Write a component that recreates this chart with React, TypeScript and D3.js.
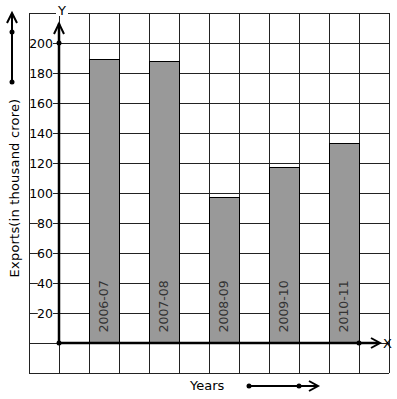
import * as d3 from "d3";

const years = ["2006-07", "2007-08", "2008-09", "2009-10", "2010-11"];
const exportsVals = [189, 188, 97, 117, 133];
const yTicks = [20, 40, 60, 80, 100, 120, 140, 160, 180, 200];

const W = 397, H = 399;
const FONT = "DejaVu Sans, sans-serif";

export default function App() {
  // grid of 12 x 12 cells, 30px each
  const gx = d3.scaleLinear().domain([0, 12]).range([29, 389]);
  const y = d3.scaleLinear().domain([-20, 220]).range([373, 13]);
  const x = d3.scaleBand<string>()
    .domain(years)
    .range([gx(1.5), gx(11.5)])
    .paddingInner(0.5)
    .paddingOuter(0.25);

  const cols = d3.range(0, 13);
  const rows = d3.range(-20, 221, 20);
  const x0 = gx(1), y0 = y(0);

  return (
    <svg width={W} height={H} style={{ position: "absolute", left: 0, top: 0, background: "#fff" }}>
      <rect width={W} height={H} fill="#fff" />
      {/* grid */}
      <g stroke="#222" strokeWidth={1} shapeRendering="crispEdges">
        {cols.map(c => (
          <line key={"c" + c} x1={gx(c)} x2={gx(c)} y1={y(220)} y2={y(-20)} />
        ))}
        {rows.map(r => (
          <line key={"r" + r} x1={gx(0)} x2={gx(12)} y1={y(r)} y2={y(r)} />
        ))}
      </g>

      {/* bars */}
      {years.map((yr, i) => (
        <g key={yr}>
          <rect x={x(yr)} y={y(exportsVals[i])} width={x.bandwidth()} height={y0 - y(exportsVals[i])}
            fill="#999" stroke="#000" strokeWidth={1} shapeRendering="crispEdges" />
          <text transform={`translate(${x(yr)! + x.bandwidth() / 2 + 4},${y(7)}) rotate(-90)`}
            fontFamily={FONT} fontSize={12.5} fill="#333">{yr}</text>
        </g>
      ))}

      {/* y tick labels */}
      {yTicks.map(t => (
        <g key={t}>
          <rect x={53 - t.toString().length * 7.6} y={y(t) - 6} width={t.toString().length * 7.6} height={12} fill="#fff" />
          <text x={53} y={y(t) + 5} textAnchor="end" fontFamily={FONT} fontSize={12.5} fill="#000">{t}</text>
        </g>
      ))}

      {/* axes */}
      <g stroke="#000" strokeWidth={2.5} fill="none">
        <line x1={x0} x2={x0} y1={y0} y2={y(213)} />
        <polyline points={`${x0 - 5},${y(206)} ${x0},${y(213)} ${x0 + 5},${y(206)}`} strokeWidth={2} />
        <line x1={x0} x2={gx(11.65)} y1={y0} y2={y0} />
        <polyline points={`${gx(11.4)},${y0 - 5} ${gx(11.7)},${y0} ${gx(11.4)},${y0 + 5}`} strokeWidth={2} />
      </g>
      <circle cx={x0} cy={y(200)} r={2.5} fill="#000" />
      <circle cx={x0} cy={y0} r={2.5} fill="#000" />
      <circle cx={gx(11)} cy={y0} r={2.5} fill="#000" />
      <rect x={56} y={2} width={12} height={14} fill="#fff" />
      <text x={62} y={15} textAnchor="middle" fontFamily={FONT} fontSize={13}>Y</text>
      <text x={383} y={y0 + 5} fontFamily={FONT} fontSize={13}>X</text>

      {/* left decorative arrow */}
      <g stroke="#000" strokeWidth={2} fill="none">
        <line x1={12} x2={12} y1={82} y2={14} />
        <polyline points="7,23 12,13 17,23" />
      </g>
      <circle cx={12} cy={32} r={2.5} fill="#000" />
      <circle cx={12} cy={82} r={2.5} fill="#000" />

      <text transform="translate(19,188) rotate(-90)" textAnchor="middle"
        fontFamily={FONT} fontSize={13} letterSpacing={0.2} fill="#000">Exports(in thousand crore)</text>

      {/* bottom */}
      <text x={190} y={390} fontFamily={FONT} fontSize={13}>Years</text>
      <g stroke="#000" strokeWidth={2} fill="none">
        <line x1={249} x2={317} y1={386} y2={386} />
        <polyline points="309,381 318,386 309,391" />
      </g>
      <circle cx={249} cy={386} r={2.5} fill="#000" />
      <circle cx={299} cy={386} r={2.5} fill="#000" />
    </svg>
  );
}
